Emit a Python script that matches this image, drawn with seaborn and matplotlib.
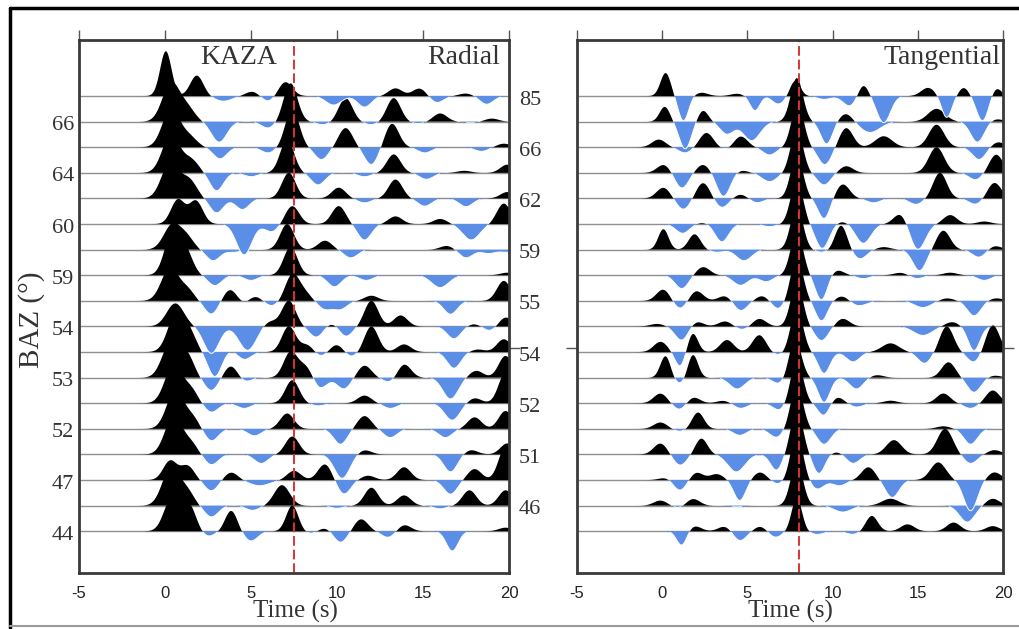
import numpy as np
import pandas as pd
import matplotlib
matplotlib.use("Agg")
import matplotlib.pyplot as plt
import seaborn as sns
from matplotlib.lines import Line2D
from matplotlib.transforms import blended_transform_factory

# ---------------- data ----------------
baz_labels = [85, 66, 66, 64, 62, 60, 59, 59, 55, 54, 54, 53, 52, 52, 51, 47, 46, 44]
x_ticks = [-5, 0, 5, 10, 15, 20]
radial_marker_t = 7.5
tangential_marker_t = 8.0

# each trace = list of pulses (time s, amplitude in trace spacings[, width s])
radial_pulses = [
    [(0.05, 1.75, 0.33), (1.85, 0.8, 0.38), (3.4, -0.2, 0.5), (5.1, 0.18), (6.0, -0.22), (7.0, 0.55), (9.8, -0.35, 0.45), (11.6, -0.43), (13.4, 0.3), (14.8, 0.3), (15.8, -0.26), (17.5, 0.1), (18.7, -0.32)],
    [(0.35, 1.5, 0.5), (1.3, 0.5, 0.45), (3.15, -0.8, 0.45), (6.0, -0.25), (7.3, 1.5, 0.4), (9.2, -0.12), (10.5, 0.92), (12.0, -0.12), (13.3, 0.92), (14.7, -0.08), (16.0, 0.32), (17.8, -0.05), (19.0, 0.12)],
    [(0.35, 1.5, 0.5), (1.4, 0.4, 0.45), (3.2, -0.45), (6.0, -0.22), (7.4, 1.5, 0.4), (9.1, -0.48), (10.5, 0.75), (12.0, -0.68), (13.2, 0.92), (15.1, -0.22), (18.4, -0.16), (19.7, 0.14)],
    [(0.35, 1.5, 0.5), (1.5, 0.5, 0.45), (3.0, -0.7), (5.0, -0.15), (7.1, 1.3, 0.4), (8.9, -0.47), (11.6, -0.15), (13.3, 0.72), (15.2, -0.25), (17.4, 0.08), (19.9, 0.32)],
    [(0.3, 1.4, 0.5), (1.4, 0.7, 0.45), (3.0, -0.56), (4.5, -0.43), (7.2, 1.0, 0.4), (10.1, 0.42), (11.6, -0.17), (13.4, 0.74), (15.1, -0.3), (17.5, -0.32), (19.9, 0.25)],
    [(0.75, 0.95), (1.8, 0.9), (4.6, -1.2, 0.45), (6.2, -0.3), (7.4, 0.7), (10.1, 0.7), (11.6, -0.62), (13.4, 0.3), (16.0, 0.2), (17.8, -0.62, 0.5), (19.7, 0.8)],
    [(0.45, 1.0, 0.5), (1.3, 0.4), (2.8, -0.43), (4.0, -0.1), (7.1, 1.0, 0.4), (9.3, 0.35), (10.8, -0.32), (16.4, 0.15), (17.5, -0.32), (18.8, -0.15), (19.9, -0.1)],
    [(0.45, 1.75, 0.45), (1.25, 0.8), (2.9, -0.4), (5.0, -0.2), (7.3, 1.1, 0.4), (9.85, -0.45), (11.7, -0.2), (16.0, -0.48, 0.5), (19.9, 0.1)],
    [(0.3, 1.3, 0.5), (1.3, 0.4), (2.7, -0.52), (3.8, 0.45), (4.6, -0.15), (5.2, 0.2), (6.2, -0.2), (7.4, 1.0, 0.4), (8.1, 0.3), (9.3, -0.32), (10.2, -0.32), (12.0, 0.2), (16.6, -0.52), (19.7, 0.78)],
    [(0.6, 0.9, 0.5), (2.7, -1.05, 0.45), (4.8, -0.93, 0.5), (6.1, 0.2), (7.2, 1.0, 0.4), (8.8, -0.42), (9.75, 0.15), (10.5, -0.4), (12.0, 1.0), (13.7, 0.43), (16.8, -0.48), (18.0, 0.1), (18.9, -0.18), (19.8, 0.36)],
    [(0.7, 1.6, 0.5), (1.5, 0.5), (2.9, -0.96, 0.4), (3.85, 0.1), (4.6, -0.3), (7.2, 1.0, 0.4), (8.3, 0.3), (9.0, -0.2), (10.0, 0.3), (10.8, -0.2), (12.0, 1.0), (13.9, 0.3), (16.8, -0.63), (18.2, 0.1), (19.7, 0.5)],
    [(0.35, 1.4, 0.5), (1.3, 0.8), (2.7, -0.5), (3.85, 0.47), (4.6, -0.18), (7.3, 1.0, 0.4), (8.2, 0.45), (9.0, -0.44), (10.4, -0.44), (11.6, 0.47), (13.1, -0.2), (13.9, 0.53), (16.6, -0.83, 0.45), (18.1, 0.27), (19.8, 0.85)],
    [(0.5, 1.5, 0.5), (1.5, 0.5), (2.7, -0.35), (4.6, -0.2), (7.4, 0.9, 0.4), (8.9, -0.1), (11.6, 0.3), (13.1, -0.2), (16.7, -0.66, 0.45), (18.0, 0.2), (19.8, 1.2)],
    [(0.6, 1.5, 0.5), (1.6, 0.4), (2.7, -0.47), (5.2, -0.27), (7.1, 0.6), (10.2, -0.6), (11.6, 0.5), (13.1, -0.34), (16.3, -0.34), (18.0, 0.45), (19.8, 0.7)],
    [(0.5, 1.5, 0.5), (1.5, 0.4), (2.7, -0.4), (5.6, -0.35), (7.4, 0.7, 0.4), (10.3, -0.93, 0.45), (11.6, 0.17), (16.6, -0.68), (17.8, 0.17), (19.9, 0.43)],
    [(0.3, 0.75, 0.4), (1.3, 0.55), (2.7, -0.42), (3.85, 0.3), (5.5, -0.22, 0.6), (7.5, 0.36), (9.3, 0.62), (10.4, -0.55), (11.8, 0.17), (13.9, 0.5), (16.6, -0.55), (18.0, 0.43), (19.8, 1.3)],
    [(0.35, 1.5, 0.5), (1.3, 0.5), (2.7, -0.44), (5.1, -0.18), (6.8, 0.8, 0.45), (10.0, -0.1), (12.0, 0.7), (13.9, 0.4), (16.0, -0.12), (17.7, 0.6), (19.8, 0.6)],
    [(0.4, 1.3, 0.45), (1.4, 1.0), (2.5, -0.2), (3.85, 0.8, 0.35), (5.0, -0.38), (7.4, 1.0, 0.35), (8.5, -0.1), (9.3, 0.14), (10.2, -0.44), (11.4, 0.47), (13.0, -0.25), (13.9, 0.25), (16.7, -0.77, 0.35), (19.8, 0.14)],
]

tangential_pulses = [
    [(0.2, 0.9, 0.3), (1.25, -0.97, 0.3), (2.3, 0.13), (4.4, 0.09), (5.45, -0.58, 0.3), (6.1, 0.05), (6.8, -0.32), (7.8, 0.6, 0.3), (9.5, -0.13), (11.0, -0.39), (11.8, 0.45, 0.3), (13.0, -1.04, 0.4), (15.6, 0.32), (16.7, -0.84, 0.3), (17.7, 0.32, 0.3), (18.8, -0.97, 0.35), (19.6, 0.32, 0.3)],
    [(0.15, 0.58, 0.3), (1.35, -1.06, 0.35), (2.4, 0.43, 0.3), (3.8, -0.48), (5.25, -0.74, 0.5), (7.9, 1.7, 0.36), (9.65, -0.87, 0.35), (10.8, 0.32), (12.2, -0.42, 0.6), (16.1, 0.5, 0.5), (18.5, -0.8, 0.4), (19.6, 0.1)],
    [(-0.2, 0.3), (1.35, -0.22), (2.6, 0.56), (3.8, -0.1), (4.6, 0.43), (6.3, -0.3), (7.95, 1.7, 0.36), (9.55, -0.68), (10.8, 0.75), (13.0, 0.43, 0.5), (16.1, 0.88, 0.45), (18.6, -0.48), (19.7, 0.2)],
    [(0.1, 0.32), (1.15, -0.6), (2.4, 0.32), (3.6, -0.92, 0.4), (4.6, 0.1), (6.3, -0.34, 0.45), (7.9, 1.7, 0.36), (9.5, -0.47), (10.8, 0.26), (16.1, 1.0, 0.45), (18.4, -0.27), (19.6, 0.71)],
    [(0.07, 0.42), (1.25, -0.43), (2.4, 0.61), (3.5, -0.36), (4.6, 0.16), (5.55, -0.17), (7.9, 1.7, 0.36), (9.5, -0.79, 0.35), (10.6, 0.55), (12.4, -0.17), (14.9, -0.23), (16.3, 1.0, 0.4), (18.4, -0.23), (19.5, 0.61)],
    [(1.2, -0.36), (2.4, 0.05), (3.5, -0.69, 0.4), (6.3, -0.1), (7.9, 1.7, 0.36), (9.4, -0.95, 0.4), (10.6, 0.1), (11.8, -0.75, 0.45), (14.0, 0.42), (15.0, -1.0, 0.45), (16.9, 0.35), (18.9, 0.1)],
    [(0.07, 0.8, 0.3), (1.9, 0.6, 0.35), (3.2, -0.1), (4.8, -0.43, 0.45), (7.9, 1.7, 0.36), (9.4, -0.1), (10.5, 0.94, 0.35), (11.6, -0.36), (13.0, 0.1), (15.1, -0.82, 0.4), (16.5, 0.74, 0.4), (18.6, -0.3), (19.5, 0.15)],
    [(1.15, -0.52), (2.4, 0.32), (4.6, -0.39, 0.45), (6.1, -0.25, 0.4), (7.9, 1.7, 0.36), (9.35, -0.97, 0.35), (10.25, 0.2), (11.8, -0.13), (14.0, 0.1), (14.95, -0.13), (16.9, 0.1), (18.9, -0.2)],
    [(0.07, 0.45), (1.05, -0.32), (2.0, 0.39), (3.7, 0.2), (4.6, -0.39), (5.9, 0.2), (6.8, -0.32), (7.9, 1.7, 0.36), (9.35, -0.78, 0.35), (10.6, 0.2), (11.5, -0.2, 0.5), (15.3, -0.26, 0.5), (16.7, 0.1), (18.3, -0.58), (19.6, 0.1)],
    [(-0.3, 0.1), (1.15, -0.55), (2.0, 0.2), (3.7, 0.2), (4.7, -0.13), (5.7, 0.3), (7.9, 1.7, 0.36), (9.35, -0.55), (10.6, 0.3), (15.3, -0.35, 0.55), (17.0, 0.17), (18.3, -0.94, 0.35)],
    [(-0.1, 0.4), (1.05, -0.57, 0.3), (1.8, 0.73, 0.3), (3.8, 0.47), (5.7, 0.66), (6.8, -0.12), (7.9, 1.7, 0.36), (9.5, -0.83, 0.35), (11.2, -0.38), (13.4, 0.34, 0.5), (15.4, -0.44), (16.7, 1.0, 0.4), (18.3, -0.4), (19.4, 1.05, 0.4)],
    [(0.2, 0.86, 0.3), (1.05, -0.25), (1.8, 0.92, 0.3), (4.4, -0.44, 0.45), (6.9, -0.25), (7.8, 1.5, 0.36), (9.5, -0.96, 0.35), (11.4, -0.44), (12.6, 0.1), (16.8, 0.6), (18.3, -0.57), (19.5, 0.08)],
    [(-0.1, 0.38), (1.05, -0.27), (1.8, 0.25), (3.6, 0.1), (4.6, -0.2), (6.9, -0.27), (7.9, 1.7, 0.36), (9.5, -0.5, 0.35), (10.25, 0.25), (11.4, -0.15), (13.4, 0.1), (16.5, 0.38), (18.1, -0.2), (19.4, 0.5)],
    [(-0.1, 0.25), (1.05, -0.1), (2.1, 0.64, 0.35), (4.55, -0.25), (6.7, -0.33), (7.9, 1.7, 0.36), (9.5, -0.6), (16.5, 0.1), (18.1, -0.6)],
    [(-0.1, 0.43), (1.05, -0.42), (2.3, 0.62, 0.35), (4.35, -0.68, 0.5), (6.7, -0.61, 0.35), (7.9, 1.7, 0.36), (9.2, -0.74, 0.35), (10.25, 0.1), (11.2, -0.35), (13.6, 0.56, 0.45), (16.6, 1.0, 0.45), (18.1, -0.35), (19.5, 0.17)],
    [(0.25, 0.1), (1.05, -0.42), (2.0, 0.3), (3.2, 0.23), (4.55, -0.8, 0.35), (5.75, 0.3), (6.8, -0.16), (7.9, 1.8, 0.36), (9.1, -0.35), (10.4, -0.22), (12.1, 0.5), (13.5, -0.68, 0.4), (16.2, 0.69, 0.45), (18.1, -1.2, 0.4), (19.5, 0.3)],
    [(-0.1, 0.2), (1.0, -0.1), (1.8, 0.27), (4.4, -0.05), (7.9, 1.7, 0.36), (10.6, -0.25, 0.5), (13.4, 0.27, 0.5), (17.9, -0.64, 0.45), (19.4, 0.27)],
    [(1.15, -0.57, 0.3), (1.9, 0.2), (3.7, 0.2), (4.55, -0.38), (5.8, 0.2), (6.6, -0.25), (7.9, 1.3, 0.3), (9.1, -0.12), (11.2, -0.12), (12.3, 0.6, 0.35), (14.4, 0.27), (17.1, 0.34), (19.4, 0.2)],
]

# ---------------- style ----------------
sns.set_theme(style="white")
plt.rcParams["font.family"] = ["Liberation Serif", "DejaVu Serif"]
BLUE = "#5b8ee6"
SPINE = "#3a3a3a"
TEXT = "#333333"
tick_font = ["Liberation Sans Narrow", "Liberation Sans", "DejaVu Sans"]
DEFAULT_W = 0.4

t = np.linspace(-5, 20, 2501)


def build(pulses):
    y = np.zeros_like(t)
    for p in pulses:
        w = p[2] if len(p) > 2 else DEFAULT_W
        y += p[1] * np.exp(-0.5 * ((t - p[0]) / w) ** 2)
    return y


def draw_panel(ax, pulse_list, marker_t):
    n = len(pulse_list)
    for i in range(n):
        ax.axhline(n - 1 - i, color="#8f8f8f", lw=1.0, zorder=1)
    # lower traces first, upper traces drawn over them
    for i in range(n - 1, -1, -1):
        pulses = pulse_list[i]
        base = n - 1 - i
        z = 2 + (n - i) * 0.1
        y = build(pulses)
        ax.fill_between(t, base, base + y, where=y > 0, interpolate=True,
                        color="black", lw=0, zorder=z)
        ax.fill_between(t, base, base + y, where=y < 0, interpolate=True,
                        color=BLUE, lw=0, zorder=z + 0.01)
        # thin white rim along the troughs
        mask = y < -0.04
        seg = np.cumsum(np.r_[0, np.diff(mask.astype(int)) != 0])
        df = pd.DataFrame({"t": t[mask], "v": base + y[mask], "seg": seg[mask]})
        if len(df):
            sns.lineplot(data=df, x="t", y="v", units="seg", estimator=None,
                         sort=False, color="white", lw=0.7, ax=ax,
                         zorder=z + 0.02, legend=False)
    ax.axvline(marker_t, color="#dd3333", lw=1.4, ls=(0, (5, 2)), zorder=10)
    ax.set_xlim(-5, 20)
    ax.set_ylim(-1.63, 19.19)
    ax.set_xlabel("")
    ax.set_ylabel("")
    ax.set_xticks(x_ticks)
    ax.set_xticklabels([str(v) for v in x_ticks], fontsize=12,
                       fontfamily=tick_font, color="#222222")
    ax.tick_params(axis="x", which="both", bottom=False, top=True,
                   labelbottom=True, direction="out", length=7,
                   width=1.0, color="#555555", pad=2)
    for s in ax.spines.values():
        s.set_color(SPINE)
        s.set_linewidth(2.0)
        s.set_zorder(20)


fig = plt.figure(figsize=(10.2, 6.29), dpi=100)
axL = fig.add_axes([79 / 1020, 1 - 573 / 629, 430 / 1020, 533 / 629])
axR = fig.add_axes([577 / 1020, 1 - 573 / 629, 426 / 1020, 533 / 629])

draw_panel(axL, radial_pulses, radial_marker_t)
draw_panel(axR, tangential_pulses, tangential_marker_t)

n = len(baz_labels)
for ax, left, right in ((axL, False, True), (axR, True, True)):
    ax.set_yticks([7.15])
    ax.set_yticklabels([""])
    ax.tick_params(axis="y", left=left, right=right, direction="out",
                   length=8, width=1.0, color="#555555")

trL = blended_transform_factory(axL.transAxes, axL.transData)
for i, lab in enumerate(baz_labels):
    base = n - 1 - i
    if i % 2 == 1:
        axL.text(-0.012, base - 0.16, str(lab), transform=trL, ha="right",
                 va="center", fontsize=16, color=TEXT)
    else:
        axL.text(1.023, base - 0.16, str(lab), transform=trL, ha="left",
                 va="center", fontsize=16, color=TEXT)

axL.text(0.372, 0.968, "KAZA", transform=axL.transAxes, ha="center",
         va="center", fontsize=20, color=TEXT, zorder=30)
axL.text(0.979, 0.968, "Radial", transform=axL.transAxes, ha="right",
         va="center", fontsize=20, color=TEXT, zorder=30)
axR.text(0.993, 0.968, "Tangential", transform=axR.transAxes, ha="right",
         va="center", fontsize=20, color=TEXT, zorder=30)

fig.text(295 / 1020, 1 - 611 / 629, "Time (s)", ha="center", va="center",
         fontsize=18, color=TEXT)
fig.text(790 / 1020, 1 - 611 / 629, "Time (s)", ha="center", va="center",
         fontsize=18, color=TEXT)
fig.text(32 / 1020, 1 - 320 / 629, "BAZ (°)", ha="center", va="center",
         rotation=90, fontsize=21, color=TEXT)

fig.add_artist(Line2D([10 / 1020, 10 / 1020], [0, 1 - 8 / 629],
                      transform=fig.transFigure, color="black", lw=2.5))
fig.add_artist(Line2D([10 / 1020, 1], [1 - 8 / 629, 1 - 8 / 629],
                      transform=fig.transFigure, color="black", lw=2.5))
fig.add_artist(Line2D([10 / 1020, 1], [1 - 626 / 629, 1 - 626 / 629],
                      transform=fig.transFigure, color="#9a9a9a", lw=1.5))

fig.savefig("out.png", dpi=100)
